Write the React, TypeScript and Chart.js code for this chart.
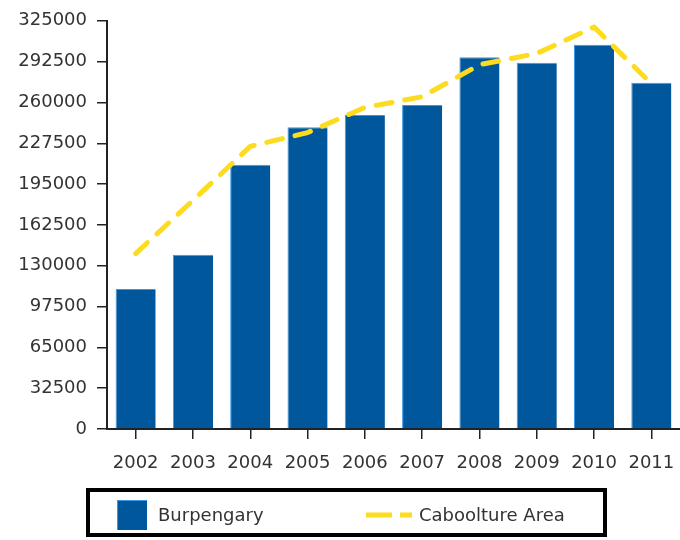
import React, { useEffect, useRef } from "react";
import { Chart, registerables } from "chart.js";

Chart.register(...registerables);

const years = ["2002", "2003", "2004", "2005", "2006", "2007", "2008", "2009", "2010", "2011"];
const burpengary = [111500, 138800, 210300, 240200, 250000, 258000, 296000, 291600, 306000, 275600];
const caboolture = [139600, 182000, 225000, 236000, 256000, 264500, 290000, 299000, 320000, 275000];
const yMax = 325000;
const yStep = 32500;

const BLUE = "#00579b";
const YELLOW = "#fddb1e";
const FONT = "'DejaVu Sans', sans-serif";

const legendBoxPlugin = {
  id: "legendBox",
  afterDraw(chart: any) {
    const ctx = chart.ctx;
    const ds = chart.data.datasets;
    ctx.save();
    ctx.lineWidth = 4;
    ctx.strokeStyle = "#000";
    ctx.strokeRect(88, 490, 517, 45);
    ctx.fillStyle = ds[1].backgroundColor;
    ctx.fillRect(117, 500, 30, 30);
    ctx.strokeStyle = "#3a98e6";
    ctx.lineWidth = 1;
    ctx.beginPath();
    ctx.moveTo(117.5, 530);
    ctx.lineTo(117.5, 500.5);
    ctx.lineTo(147, 500.5);
    ctx.stroke();
    ctx.font = "18px " + FONT;
    ctx.fillStyle = "#333";
    ctx.textBaseline = "middle";
    ctx.textAlign = "left";
    ctx.fillText(ds[1].label, 158, 516);
    ctx.strokeStyle = ds[0].borderColor;
    ctx.lineWidth = 5;
    ctx.lineCap = "butt";
    ctx.beginPath();
    ctx.moveTo(366, 515);
    ctx.lineTo(392, 515);
    ctx.moveTo(400, 515);
    ctx.lineTo(412, 515);
    ctx.stroke();
    ctx.fillStyle = "#333";
    ctx.fillText(ds[0].label, 419, 516);
    ctx.restore();
  },
};

export default function App() {
  const ref = useRef<HTMLCanvasElement>(null);
  useEffect(() => {
    if (!ref.current) return;
    const chart = new Chart(ref.current, {
      type: "bar",
      data: {
        labels: years,
        datasets: [
          {
            type: "line",
            label: "Caboolture Area",
            data: caboolture,
            borderColor: YELLOW,
            backgroundColor: YELLOW,
            borderWidth: 5,
            borderDash: [16, 13],
            borderCapStyle: "round",
            borderJoinStyle: "round",
            pointRadius: 0,
            tension: 0,
            fill: false,
            order: 0,
          } as any,
          {
            type: "bar",
            label: "Burpengary",
            data: burpengary,
            backgroundColor: BLUE,
            borderColor: "#3a98e6",
            borderWidth: { top: 1, left: 1, right: 0, bottom: 0 },
            borderSkipped: false,
            barPercentage: 0.7,
            categoryPercentage: 1,
            order: 1,
          } as any,
        ],
      },
      options: {
        animation: false,
        responsive: false,
        layout: { padding: { top: 20, right: 0, left: 0, bottom: 0 } },
        plugins: {
          legend: { display: false },
          tooltip: { enabled: false },
        },
        scales: {
          x: {
            offset: true,
            grid: {
              offset: false,
              drawOnChartArea: false,
              drawTicks: true,
              tickLength: 10,
              color: "#222",
              lineWidth: 1.5,
            },
            border: { display: true, color: "#222", width: 2 },
            ticks: {
              color: "#333",
              font: { family: FONT, size: 18 },
              padding: 14,
              maxRotation: 0,
              autoSkip: false,
            },
            afterFit: (scale: any) => {
              scale.height = 111;
              scale.paddingLeft = 0;
              scale.paddingRight = 0;
            },
          },
          y: {
            min: 0,
            max: yMax,
            grid: {
              drawOnChartArea: false,
              drawTicks: true,
              tickLength: 10,
              color: "#222",
              lineWidth: 1.5,
            },
            border: { display: true, color: "#222", width: 2 },
            ticks: {
              stepSize: yStep,
              color: "#333",
              font: { family: FONT, size: 18 },
              padding: 10,
              callback: (v: any) => String(v),
            },
            afterFit: (scale: any) => {
              scale.width = 107;
            },
          },
        },
      },
      plugins: [legendBoxPlugin],
    });
    return () => chart.destroy();
  }, []);
  return (
    <div style={{ position: "absolute", left: 0, top: 0, width: 680, height: 540, background: "#fff" }}>
      <canvas ref={ref} width={680} height={540} />
    </div>
  );
}
